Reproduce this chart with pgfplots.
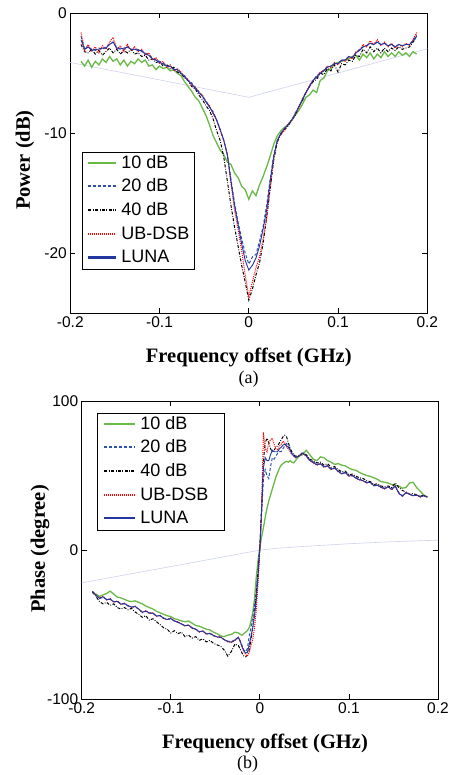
\documentclass[border=0pt]{standalone}
\usepackage{fontspec}
\setmainfont{Liberation Serif}
\newfontfamily\arial{Liberation Sans}
\usepackage{pgfplots}
\usepackage{pgfplotstable}
\pgfplotsset{compat=1.18}
\definecolor{cgreen}{RGB}{105,185,70}
\definecolor{cblue}{RGB}{45,80,180}
\definecolor{cluna}{RGB}{35,55,160}
\definecolor{cgrey}{RGB}{205,210,235}

\pgfplotstableread{
x g b k r l
-0.188 -4.0 -1.9 -2.6 -1.6 -2.2
-0.184 -4.4 -3.0 -3.2 -3.1 -3.0
-0.180 -3.9 -2.8 -3.3 -2.6 -2.8
-0.176 -4.5 -3.0 -3.0 -3.2 -3.1
-0.172 -4.0 -3.1 -3.4 -2.8 -3.0
-0.168 -4.3 -2.9 -3.1 -3.3 -3.0
-0.164 -3.8 -3.0 -3.5 -2.7 -2.9
-0.160 -4.1 -2.8 -3.2 -3.0 -2.9
-0.156 -3.6 -2.6 -2.9 -2.4 -2.6
-0.152 -4.0 -2.4 -3.3 -2.0 -2.4
-0.148 -3.8 -2.9 -3.0 -3.0 -2.9
-0.144 -4.3 -3.0 -3.4 -2.7 -2.9
-0.140 -3.9 -2.9 -3.1 -3.2 -3.0
-0.136 -4.4 -2.8 -3.3 -2.6 -2.8
-0.132 -4.0 -3.0 -3.0 -3.1 -3.0
-0.128 -4.2 -3.0 -3.4 -2.8 -3.0
-0.124 -3.8 -3.0 -3.3 -3.2 -3.1
-0.120 -4.1 -3.2 -3.6 -3.0 -3.1
-0.116 -3.9 -3.3 -3.5 -3.5 -3.4
-0.112 -4.4 -3.5 -3.9 -3.3 -3.5
-0.108 -4.3 -3.7 -3.8 -3.9 -3.8
-0.104 -4.7 -3.9 -4.1 -3.7 -3.9
-0.100 -4.4 -4.0 -4.0 -4.2 -4.1
-0.096 -4.6 -4.2 -4.4 -4.0 -4.2
-0.092 -4.5 -4.3 -4.3 -4.5 -4.4
-0.088 -4.8 -4.5 -4.6 -4.3 -4.4
-0.084 -4.7 -4.6 -4.5 -4.8 -4.7
-0.080 -5.0 -4.7 -4.9 -4.6 -4.7
-0.076 -5.2 -5.0 -5.0 -4.9 -5.0
-0.072 -5.7 -5.2 -5.4 -5.3 -5.3
-0.068 -6.1 -5.6 -5.6 -5.5 -5.6
-0.064 -6.5 -5.8 -6.1 -6.0 -5.9
-0.060 -7.0 -6.3 -6.3 -6.1 -6.2
-0.056 -7.3 -6.5 -6.8 -6.6 -6.6
-0.052 -7.9 -6.9 -7.2 -6.8 -6.9
-0.048 -8.5 -7.3 -7.7 -7.4 -7.4
-0.044 -9.3 -7.8 -8.1 -7.7 -7.8
-0.040 -10.2 -8.2 -8.8 -8.4 -8.3
-0.036 -10.8 -8.9 -9.8 -8.9 -8.9
-0.032 -11.4 -9.7 -10.6 -9.8 -9.7
-0.028 -11.8 -10.6 -12.0 -10.6 -10.6
-0.024 -12.4 -11.8 -14.0 -11.8 -11.8
-0.020 -12.6 -13.8 -16.0 -14.2 -14.0
-0.016 -13.3 -15.8 -17.8 -16.4 -16.0
-0.012 -13.7 -17.4 -19.4 -18.0 -17.6
-0.008 -14.4 -18.8 -21.0 -19.8 -19.2
-0.004 -14.7 -20.0 -22.4 -21.8 -20.6
0.000 -15.5 -20.9 -23.9 -23.6 -21.4
0.004 -14.8 -20.3 -23.0 -22.4 -21.0
0.008 -15.2 -20.1 -21.8 -21.2 -20.4
0.012 -14.3 -19.0 -20.8 -20.3 -19.4
0.016 -13.6 -17.8 -19.2 -18.8 -18.0
0.020 -12.8 -16.0 -17.0 -17.1 -16.4
0.024 -11.9 -13.8 -14.6 -14.5 -14.0
0.028 -10.9 -11.8 -12.2 -12.0 -11.9
0.032 -10.2 -10.6 -10.7 -10.6 -10.6
0.036 -9.8 -10.0 -10.1 -10.0 -10.0
0.040 -9.5 -9.6 -9.7 -9.8 -9.6
0.044 -9.3 -9.3 -9.4 -9.2 -9.3
0.048 -8.9 -8.9 -8.9 -9.0 -8.9
0.052 -8.5 -8.4 -8.5 -8.3 -8.4
0.056 -8.1 -7.8 -7.8 -7.9 -7.8
0.060 -7.6 -7.2 -7.3 -7.1 -7.2
0.064 -7.0 -6.6 -6.6 -6.7 -6.6
0.068 -6.8 -6.1 -6.1 -6.0 -6.1
0.072 -6.4 -5.6 -5.7 -5.6 -5.6
0.076 -6.6 -5.2 -5.5 -5.3 -5.3
0.080 -5.6 -5.0 -5.0 -4.9 -5.0
0.084 -5.4 -4.7 -5.1 -4.8 -4.8
0.088 -4.8 -4.5 -4.6 -4.4 -4.5
0.092 -4.6 -4.4 -4.8 -4.5 -4.4
0.096 -4.2 -4.2 -4.3 -4.1 -4.2
0.100 -4.1 -4.2 -4.9 -4.3 -4.2
0.104 -4.0 -3.9 -4.2 -3.9 -3.9
0.108 -3.9 -3.9 -4.3 -4.0 -3.9
0.112 -3.8 -3.6 -3.9 -3.6 -3.6
0.116 -3.6 -3.7 -4.0 -3.8 -3.7
0.120 -3.5 -3.3 -3.5 -3.2 -3.3
0.124 -3.9 -3.0 -3.6 -3.1 -3.1
0.128 -3.4 -2.8 -3.0 -2.6 -2.8
0.132 -3.7 -2.7 -3.3 -2.8 -2.7
0.136 -3.3 -2.5 -2.8 -2.3 -2.5
0.140 -3.8 -2.6 -3.2 -2.6 -2.6
0.144 -3.4 -2.4 -2.9 -2.2 -2.4
0.148 -3.7 -2.6 -3.3 -2.7 -2.6
0.152 -3.2 -2.5 -2.9 -2.4 -2.5
0.156 -3.6 -2.7 -3.2 -2.8 -2.7
0.160 -3.3 -2.6 -2.9 -2.5 -2.6
0.164 -3.6 -2.8 -3.1 -2.9 -2.8
0.168 -3.2 -2.6 -2.8 -2.6 -2.6
0.172 -3.5 -2.7 -3.0 -2.8 -2.7
0.176 -3.3 -2.6 -2.9 -2.5 -2.6
0.180 -3.6 -2.6 -2.8 -2.7 -2.6
0.184 -3.2 -2.3 -2.4 -2.2 -2.3
0.188 -3.4 -1.8 -2.0 -1.6 -1.9
}\power

\pgfplotstableread{
x g b k r l
-0.188 -28.5 -27.5 -28.0 -28.0 -27.8
-0.184 -29.5 -30.0 -31.0 -30.5 -30.2
-0.180 -31.0 -32.5 -34.5 -32.0 -32.2
-0.176 -30.0 -31.5 -36.0 -31.0 -31.3
-0.172 -29.0 -33.0 -35.0 -33.5 -33.2
-0.168 -27.5 -33.0 -37.0 -32.5 -32.8
-0.164 -29.5 -34.5 -36.0 -35.0 -34.7
-0.160 -31.5 -34.5 -38.5 -34.0 -34.3
-0.156 -32.0 -36.0 -39.5 -36.5 -36.2
-0.152 -33.0 -36.0 -38.5 -35.5 -35.8
-0.148 -34.0 -37.5 -40.0 -37.0 -37.2
-0.144 -34.5 -38.0 -39.0 -38.5 -38.2
-0.140 -34.0 -38.0 -41.5 -37.5 -37.8
-0.136 -35.0 -39.5 -43.0 -39.5 -39.5
-0.132 -36.0 -41.5 -45.0 -42.0 -41.7
-0.128 -37.5 -41.0 -44.0 -40.5 -40.8
-0.124 -38.5 -42.0 -47.0 -42.5 -42.2
-0.120 -39.5 -42.5 -46.0 -42.0 -42.3
-0.116 -41.0 -44.0 -48.0 -44.5 -44.2
-0.112 -42.0 -44.0 -50.0 -43.5 -43.8
-0.108 -43.0 -45.5 -52.0 -46.0 -45.7
-0.104 -44.0 -46.5 -53.0 -46.5 -46.5
-0.100 -44.5 -46.0 -55.5 -45.5 -45.8
-0.096 -46.0 -47.5 -54.0 -47.5 -47.5
-0.092 -46.5 -48.5 -56.0 -48.0 -48.3
-0.088 -47.5 -49.5 -55.0 -49.5 -49.5
-0.084 -48.0 -50.5 -58.0 -51.0 -50.7
-0.080 -47.5 -50.5 -57.0 -50.0 -50.3
-0.076 -49.0 -52.0 -59.0 -52.5 -52.2
-0.072 -50.5 -53.0 -58.0 -53.0 -53.0
-0.068 -51.0 -54.5 -60.5 -55.0 -54.7
-0.064 -52.0 -54.5 -59.5 -54.0 -54.3
-0.060 -53.0 -56.0 -61.5 -56.5 -56.2
-0.056 -53.5 -56.0 -60.5 -55.5 -55.8
-0.052 -55.0 -57.5 -62.5 -57.0 -57.3
-0.048 -56.0 -58.0 -63.5 -58.5 -58.2
-0.044 -57.5 -58.5 -64.5 -58.0 -58.3
-0.040 -58.0 -60.0 -67.0 -60.0 -60.0
-0.036 -57.0 -61.0 -71.0 -61.5 -61.2
-0.032 -56.5 -61.5 -68.0 -62.0 -61.7
-0.028 -55.0 -60.0 -63.0 -60.5 -60.2
-0.024 -55.5 -58.5 -64.0 -58.5 -58.5
-0.022 -56.5 -61.0 -66.5 -61.5 -61.2
-0.020 -57.0 -64.0 -69.0 -65.0 -64.5
-0.018 -56.0 -67.0 -71.0 -68.0 -67.5
-0.016 -55.0 -68.0 -71.5 -70.0 -69.0
-0.014 -54.0 -66.0 -70.5 -71.0 -68.5
-0.012 -52.0 -58.0 -67.0 -69.0 -63.5
-0.010 -48.0 -52.0 -60.0 -64.0 -58.0
-0.008 -42.0 -45.0 -52.0 -60.0 -52.0
-0.006 -33.0 -37.0 -42.0 -52.0 -44.0
-0.004 -18.0 -28.0 -30.0 -40.0 -33.0
-0.002 -7.0 -14.0 -14.0 -22.0 -17.0
0.000 2.0 2.0 2.0 0.0 1.0
0.002 9.0 25.0 30.0 28.0 27.0
0.004 15.0 48.0 60.0 79.0 55.0
0.006 22.0 54.0 72.0 68.0 62.0
0.008 28.0 50.0 75.0 66.0 60.0
0.010 33.0 48.0 72.0 72.0 60.0
0.012 37.0 56.0 68.0 74.0 64.0
0.014 41.0 62.0 66.0 75.0 67.0
0.016 45.0 61.0 67.0 71.0 66.0
0.018 49.0 63.0 69.0 68.0 66.0
0.020 52.0 65.0 70.0 67.0 66.0
0.022 55.0 66.0 72.0 70.0 68.0
0.024 57.0 66.0 74.0 71.0 69.0
0.026 58.0 68.0 76.0 73.0 70.5
0.028 59.0 70.0 77.0 72.0 71.0
0.030 59.5 71.5 76.0 69.0 70.0
0.032 59.0 70.0 72.0 68.0 69.0
0.034 60.0 68.0 68.0 66.0 67.0
0.036 59.0 65.0 66.0 64.0 64.5
0.038 58.5 64.0 64.0 63.0 63.5
0.040 60.0 62.0 63.0 62.0 62.0
0.044 63.0 63.0 63.0 63.5 63.2
0.048 64.0 65.0 65.5 65.0 65.0
0.052 67.0 63.5 64.0 63.0 63.2
0.056 64.0 60.5 61.0 60.0 60.2
0.060 61.0 59.0 60.0 58.5 58.8
0.064 60.0 57.5 58.5 57.0 57.2
0.068 62.5 58.0 59.0 58.0 58.0
0.072 62.0 56.0 57.0 55.5 55.8
0.076 60.0 56.5 58.0 56.5 56.5
0.080 59.0 54.5 55.5 54.0 54.2
0.084 57.5 55.0 56.0 55.0 55.0
0.088 58.0 53.0 54.0 52.5 52.8
0.092 57.0 51.5 52.5 51.0 51.2
0.096 56.5 52.0 53.0 52.0 52.0
0.100 55.0 50.0 50.5 49.5 49.8
0.104 54.0 50.0 51.0 50.0 50.0
0.108 53.5 48.5 49.5 48.0 48.2
0.112 52.0 47.5 48.5 47.0 47.2
0.116 51.0 46.5 48.0 46.5 46.5
0.120 50.0 45.5 46.5 45.0 45.2
0.124 49.5 45.5 46.0 45.5 45.5
0.128 48.5 43.5 44.0 43.0 43.2
0.132 47.5 43.5 44.5 43.5 43.5
0.136 46.0 42.5 43.0 42.0 42.2
0.140 45.5 41.5 42.5 41.0 41.2
0.144 45.0 42.5 43.0 42.5 42.5
0.148 44.0 41.0 42.0 40.5 40.8
0.152 43.5 43.0 45.0 43.0 43.0
0.156 43.0 38.5 42.0 38.0 38.2
0.160 41.5 36.5 40.0 36.0 36.2
0.164 42.0 38.5 39.0 38.5 38.5
0.168 45.0 37.5 37.5 37.5 37.5
0.172 45.5 36.5 38.0 36.5 36.5
0.176 42.0 37.0 37.0 37.0 37.0
0.180 39.5 36.0 36.0 35.5 35.8
0.184 37.0 36.5 37.0 36.5 36.5
0.188 35.5 35.5 36.0 35.5 35.5
}\phase

\pgfplotsset{
  every axis/.append style={
    scale only axis, clip=false,
    xmin=-0.2, xmax=0.2,
    xtick={-0.2,-0.1,0,0.1,0.2},
    xticklabels={-0.2,-0.1,0,0.1,0.2},
    tick align=inside, major tick length=5pt,
    axis line style={line width=0.9pt},
    every tick/.style={draw=black, line width=0.8pt},
    tick label style={font=\arial\fontsize{15.5}{17}\selectfont},
    label style={font=\bfseries\fontsize{20.5}{23}\selectfont},
    legend cell align=left,
  },
  s10/.style={draw=cgreen, line width=1.3pt},
  s20/.style={draw=cblue, line width=1pt, dash pattern=on 3pt off 2pt},
  s40/.style={draw=black, line width=1pt, dash pattern=on 3pt off 1.5pt on 0.8pt off 1.5pt},
  sub/.style={draw=red, line width=1pt, dash pattern=on 1pt off 1pt},
  slu/.style={draw=cluna, line width=0.9pt},
}

\begin{document}
\begin{tikzpicture}
\path[use as bounding box] (0pt,0pt) rectangle (449pt,775pt);

\begin{axis}[
  at={(70.3pt,461.7pt)}, anchor=south west,
  width=357pt, height=300pt,
  ymin=-25, ymax=0,
  ytick={-20,-10,0}, yticklabels={-20,-10,0},
  xlabel={Frequency offset (GHz)},
  ylabel={Power (dB)},
  xlabel style={at={(axis description cs:0.5,-0.146)}, anchor=center},
  ylabel style={at={(axis description cs:-0.127,0.511)}, anchor=center},
  legend image code/.code={\draw[#1,line width=2.1pt] (0pt,0.5pt) -- (28pt,0.5pt);},
  legend style={at={(axis description cs:0.0328,0.5377)}, anchor=north west,
    fill=none, font=\arial\fontsize{18}{20}\selectfont,
    inner xsep=5pt, inner ysep=3pt, row sep=7.7pt, column sep=4pt,
    nodes={inner sep=0pt, text height=13pt, text depth=3pt}},
]
\addplot[draw=cgrey, line width=0.6pt, forget plot] coordinates {(-0.2,-4.1) (0,-7.0) (0.2,-2.95)};
\addplot[s10] table[x=x,y=g] {\power};
\addplot[s20] table[x=x,y=b] {\power};
\addplot[s40] table[x=x,y=k] {\power};
\addplot[sub] table[x=x,y=r] {\power};
\addplot[slu] table[x=x,y=l] {\power};
\legend{10 dB,20 dB,40 dB,UB-DSB,LUNA}
\node[font=\fontsize{18}{20}\selectfont] at (axis description cs:0.4997,-0.219) {(a)};
\end{axis}

\begin{axis}[
  at={(81.7pt,75.7pt)}, anchor=south west,
  width=356.3pt, height=298.3pt,
  ymin=-100, ymax=100,
  ytick={-100,0,100}, yticklabels={-100,0,100},
  xlabel={Frequency offset (GHz)},
  ylabel={Phase (degree)},
  xlabel style={at={(axis description cs:0.5144,-0.1475)}, anchor=center},
  ylabel style={at={(axis description cs:-0.117,0.504)}, anchor=center},
  legend image code/.code={\draw[#1,line width=2.1pt] (0pt,0.5pt) -- (31pt,0.5pt);},
  legend style={at={(axis description cs:0.043,0.96)}, anchor=north west,
    fill=none, font=\arial\fontsize{18}{20}\selectfont,
    inner xsep=6pt, inner ysep=3pt, row sep=7.7pt, column sep=4pt,
    nodes={inner sep=0pt, text height=13pt, text depth=3pt}},
]
\addplot[draw=cgrey, line width=0.6pt, forget plot] coordinates {(-0.2,-21.9) (-0.1,-11) (0,0) (0.02,1.3) (0.05,2.5) (0.1,4.3) (0.15,5.7) (0.2,6.7)};
\addplot[s10] table[x=x,y=g] {\phase};
\addplot[s20] table[x=x,y=b] {\phase};
\addplot[s40] table[x=x,y=k] {\phase};
\addplot[sub] table[x=x,y=r] {\phase};
\addplot[slu] table[x=x,y=l] {\phase};
\legend{10 dB,20 dB,40 dB,\makebox[78pt][l]{UB-DSB},LUNA}
\node[font=\fontsize{18}{20}\selectfont] at (axis description cs:0.466,-0.217) {(b)};
\end{axis}
\end{tikzpicture}
\end{document}
